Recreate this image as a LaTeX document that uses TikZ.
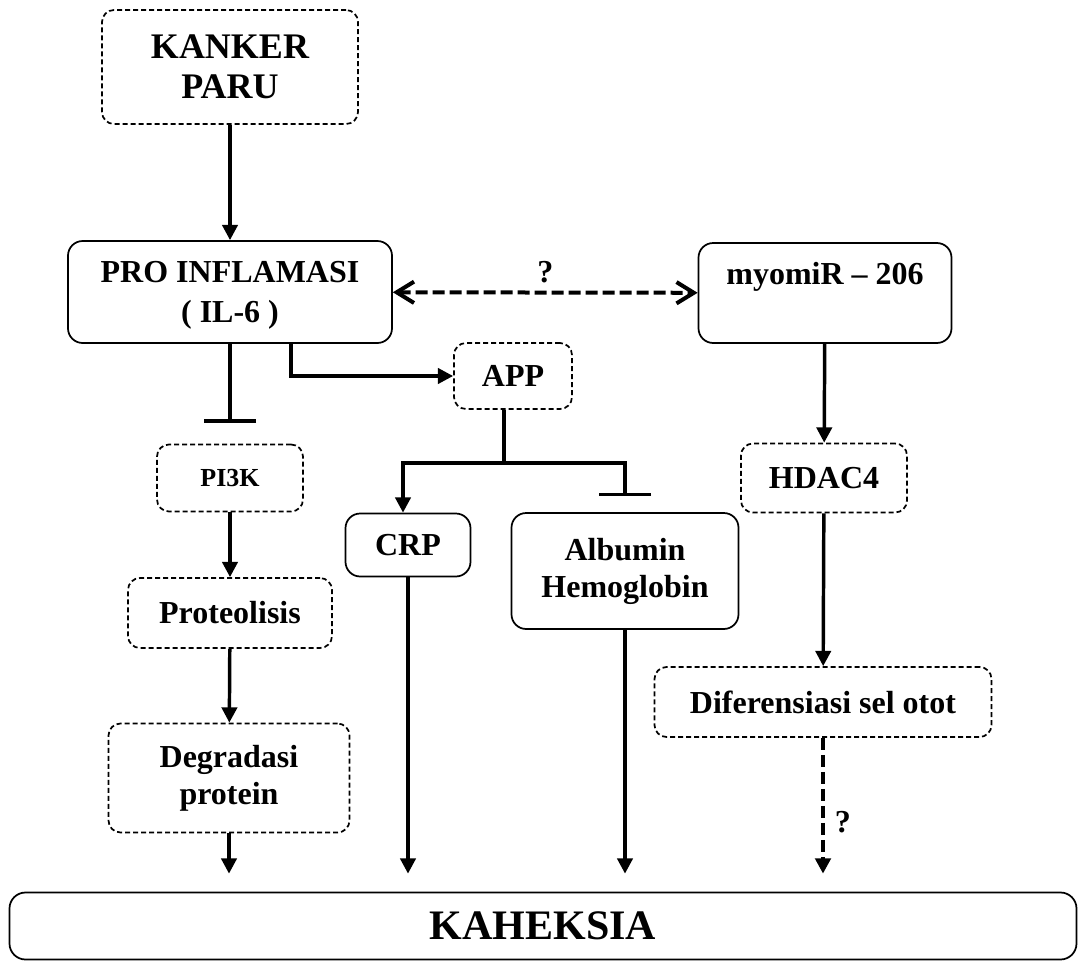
\documentclass[tikz,border=0pt]{standalone}
\usepackage{fontspec}
\setmainfont{Liberation Serif}
\usepackage{tikz}
\usetikzlibrary{arrows.meta, positioning}
\tikzstyle{box} = [draw, line width=1.3pt, rounded corners=11pt, align=center, inner sep=2pt, font=\bfseries\fontsize{24}{30}\selectfont]
\tikzstyle{dbox} = [box, dash pattern=on 3.75pt off 2.25pt, rounded corners=9pt]
\tikzstyle{link} = [line width=2.6pt]
\tikzstyle{arrow} = [link, -{Triangle[length=11.5pt,width=11.5pt]}]
\tikzstyle{inhib} = [link, -{Bar[width=39pt]}]
\tikzstyle{maybe} = [line width=3pt, dash pattern=on 9pt off 3.75pt]
\tikzset{boxsize/.style 2 args={minimum width=#1*0.75pt, minimum height=#2*0.75pt}}

\begin{document}
\begin{tikzpicture}[x=0.75pt, y=-0.75pt]
        \useasboundingbox (0,0) rectangle (1089,964);
        % boxes
        \node[dbox, boxsize={256}{114}, font=\bfseries\fontsize{27}{30}\selectfont] (kanker) at (230,67) {KANKER\\PARU};
        \node[box, boxsize={324}{102}, text depth=0pt] (pro) at (230,292) {PRO INFLAMASI\\( IL-6 )};
        \node[box, boxsize={253}{100}, text depth=0pt] (myo) at (825,293) {myomiR -- 206\\\phantom{( IL-6 )}};
        \node[dbox, boxsize={118}{66}] (app) at (513,376) {APP};
        \node[dbox, boxsize={146}{67}, font=\bfseries\fontsize{19.5}{24}\selectfont] (pi3k) at (230,478) {PI3K};
        \node[dbox, boxsize={166}{69}] (hdac) at (824,478) {HDAC4};
        \node[box, boxsize={125}{63}] (crp) at (408,545) {CRP};
        \node[box, boxsize={227}{116}, font=\bfseries\fontsize{24}{27.75}\selectfont] (alb) at (625,571) {Albumin\\Hemoglobin};
        \node[dbox, boxsize={204}{70}] (prot) at (230,613) {Proteolisis};
        \node[dbox, boxsize={337}{70}] (dif) at (823,702) {Diferensiasi sel otot};
        \node[dbox, boxsize={241}{109}, font=\bfseries\fontsize{24}{27.75}\selectfont] (deg) at (229,778) {Degradasi\\protein};
        \node[box, boxsize={1067}{67}, rounded corners=12pt, font=\bfseries\fontsize{31.5}{36}\selectfont] (kah) at (543,926) {KAHEKSIA};
        \coordinate (fork) at (504,463);

        % connectors
        \draw[arrow] (kanker) -- (pro);
        \draw[maybe, {Straight Barb[length=13pt,width=16pt]}-{Straight Barb[length=13pt,width=16pt]}] (pro) -- node[above=2pt, font=\bfseries\fontsize{24}{30}\selectfont]{?} (myo);
        \draw[inhib, shorten >=15.75pt] (pro) -- (pi3k);
        \draw[arrow] ([xshift=45.75pt]pro.south) |- (app.west);
        \draw[link] (app.south -| fork) -- (fork);
        \draw[arrow] (fork) -| ([xshift=-3.75pt]crp.north);
        \draw[inhib, shorten >=12pt] (fork) -| (alb.north);
        \draw[arrow] (myo) -- (hdac);
        \draw[arrow] (hdac) -- (dif);
        \draw[arrow] (pi3k) -- (prot);
        \draw[arrow] (prot) -- (deg);
        \draw[arrow, shorten >=13.5pt] (deg) -- (deg.south |- kah.north);
        \draw[arrow, shorten >=13.5pt] (crp) -- (crp.south |- kah.north);
        \draw[arrow, shorten >=13.5pt] (alb) -- (alb.south |- kah.north);
        \draw[maybe, -{Triangle[length=11.5pt,width=11.5pt]}, shorten >=13.5pt] (dif) -- node[right=4pt, pos=0.55, font=\bfseries\fontsize{24}{30}\selectfont]{?} (dif.south |- kah.north);
    \end{tikzpicture}
\end{document}
